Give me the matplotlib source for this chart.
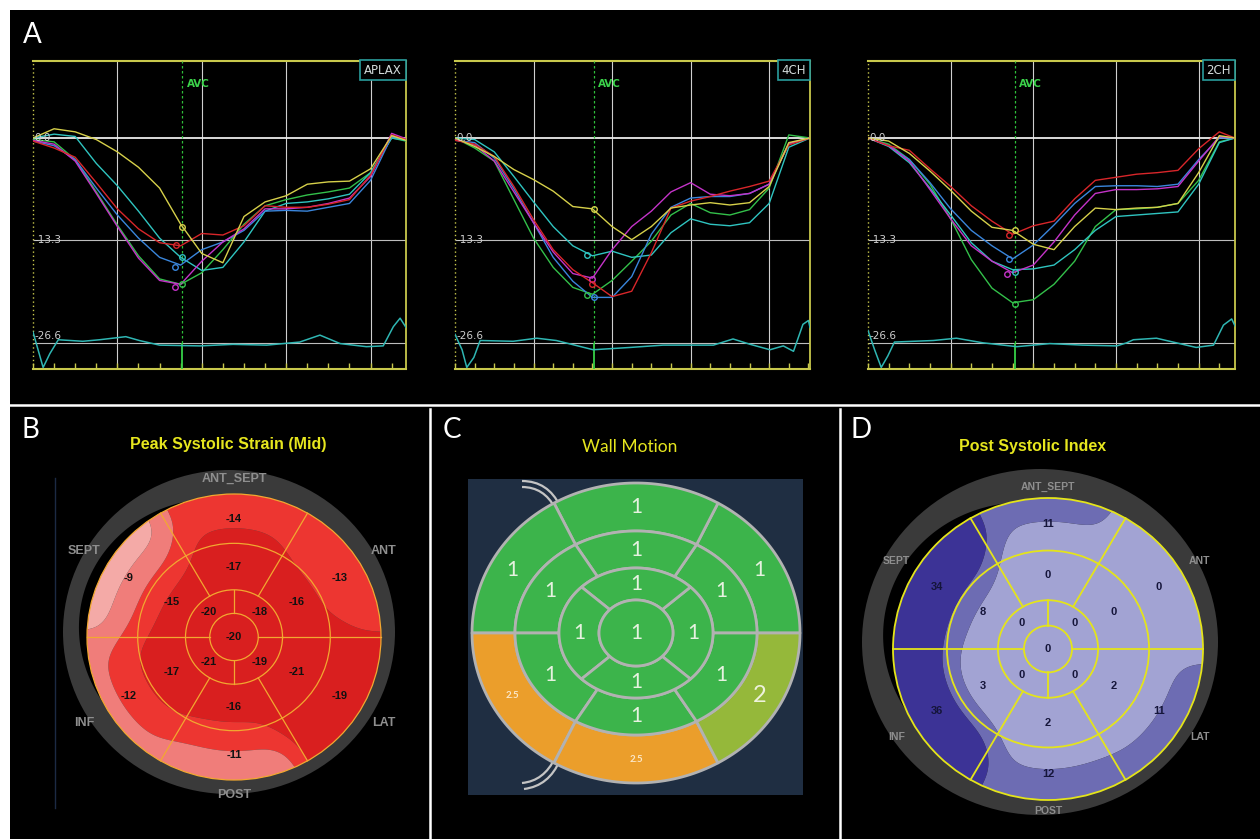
import numpy as np
import matplotlib
matplotlib.use("Agg")
import matplotlib.pyplot as plt
from matplotlib.patches import Rectangle, Ellipse, Polygon, PathPatch
from matplotlib.path import Path
import matplotlib.transforms as mtransforms

# ---------------- DATA ----------------
VIEWS = ["APLAX", "4CH", "2CH"]
T_END = [4.42, 4.52, 4.44]
AVC_T = [1.77, 1.77, 1.78]
TIME_STEPS = [0.0, 0.25, 0.5, 0.75, 1.0, 1.25, 1.5, 1.75, 2.0, 2.25,
              2.5, 2.75, 3.0, 3.25, 3.5, 3.75, 4.0, 4.25]
Y_LABELS = ["0.0", "-13.3", "-26.6"]
Y_LEVELS = [0.0, -13.3, -26.6]

aplax_yellow = [0.0, 1.2, 0.8, -0.2, -1.8, -3.8, -6.5, -11.2, -15.0, -16.2, -10.2, -8.3, -7.5, -6.0, -5.7, -5.6, -4.0, 0.3, -0.3]
aplax_red = [-0.4, -1.3, -2.5, -5.8, -9.2, -11.8, -13.6, -14.0, -12.4, -12.6, -11.4, -8.8, -9.0, -9.0, -8.6, -8.0, -4.8, 0.4, -0.2]
aplax_blue = [-0.4, -1.0, -2.8, -6.5, -10.0, -13.0, -15.5, -16.5, -14.5, -13.5, -12.0, -9.5, -9.4, -9.5, -9.0, -8.5, -5.5, 0.2, -0.2]
aplax_magenta = [-0.3, -0.8, -3.0, -7.2, -11.5, -15.6, -18.5, -19.0, -16.0, -13.5, -11.8, -9.2, -9.2, -9.0, -8.5, -7.8, -5.0, 0.6, -0.1]
aplax_cyan = [0.0, 0.5, 0.2, -3.3, -6.2, -9.5, -13.0, -15.5, -17.2, -16.8, -13.5, -9.5, -8.5, -8.3, -7.9, -7.3, -4.5, 0.0, -0.3]
aplax_green = [-0.2, -0.5, -2.8, -7.0, -11.3, -15.3, -18.3, -19.0, -17.5, -14.5, -11.2, -8.8, -8.0, -7.4, -7.0, -6.5, -4.5, 0.0, -0.4]

ch4_yellow = [0.0, -1.1, -2.4, -4.1, -5.4, -6.9, -8.9, -9.2, -11.5, -13.2, -11.5, -9.1, -8.7, -8.4, -8.7, -8.4, -6.3, -0.6, 0.0]
ch4_red = [-0.3, -0.8, -2.4, -6.3, -10.6, -14.5, -17.1, -18.8, -20.6, -19.9, -14.9, -9.1, -8.2, -7.6, -6.9, -6.3, -5.6, -0.9, 0.0]
ch4_blue = [-0.3, -0.6, -2.6, -6.6, -11.0, -15.5, -18.6, -20.7, -20.7, -18.0, -12.5, -9.0, -7.8, -7.6, -7.6, -7.2, -6.0, -0.8, 0.0]
ch4_magenta = [-0.2, -0.9, -3.0, -7.0, -11.0, -14.8, -17.6, -18.2, -14.5, -11.5, -9.5, -7.0, -5.8, -7.3, -7.5, -7.2, -6.0, -0.7, 0.0]
ch4_cyan = [0.0, -0.2, -1.8, -5.0, -8.3, -11.5, -14.0, -15.3, -14.7, -15.5, -15.2, -12.3, -10.5, -11.2, -11.4, -11.0, -8.5, -1.2, 0.0]
ch4_green = [0.0, -1.3, -3.0, -8.0, -13.0, -16.8, -19.4, -20.3, -18.5, -16.0, -13.4, -10.0, -8.5, -9.7, -10.0, -9.3, -6.5, 0.4, 0.0]

ch2_yellow = [0.0, -0.4, -2.0, -4.3, -6.8, -9.5, -11.6, -12.0, -13.8, -14.5, -11.5, -9.1, -9.3, -9.1, -9.0, -8.5, -4.5, 0.3, 0.0]
ch2_red = [0.0, -1.0, -1.6, -4.0, -6.3, -8.8, -10.8, -12.5, -11.4, -10.8, -7.9, -5.5, -5.1, -4.7, -4.5, -4.2, -1.4, 0.8, 0.0]
ch2_blue = [0.0, -1.0, -2.8, -5.8, -9.2, -12.0, -14.0, -15.7, -13.9, -11.3, -8.5, -6.3, -6.2, -6.2, -6.3, -6.0, -2.8, 0.0, 0.0]
ch2_magenta = [0.0, -1.0, -3.0, -6.7, -10.5, -14.0, -16.0, -17.5, -16.5, -13.5, -10.0, -7.2, -6.7, -6.7, -6.6, -6.3, -3.0, 0.2, 0.0]
ch2_cyan = [0.0, -1.1, -3.2, -6.5, -10.0, -13.6, -16.0, -17.1, -17.0, -16.5, -14.5, -12.0, -10.2, -10.0, -9.8, -9.6, -6.0, -0.6, 0.0]
ch2_green = [0.0, -0.8, -2.8, -6.0, -10.5, -15.8, -19.5, -21.4, -21.0, -19.0, -16.0, -11.5, -9.3, -9.2, -9.0, -8.5, -5.5, -0.5, 0.0]

# AVC markers (time, strain) per trace
aplax_marks = {"yellow": (1.76, -11.5), "red": (1.70, -13.9), "cyan": (1.76, -15.4),
               "blue": (1.68, -16.8), "magenta": (1.68, -19.3), "green": (1.76, -19.0)}
ch4_marks = {"yellow": (1.77, -9.2), "cyan": (1.68, -15.2), "magenta": (1.75, -18.3),
             "red": (1.75, -18.9), "green": (1.68, -20.4), "blue": (1.77, -20.7)}
ch2_marks = {"red": (1.70, -12.6), "yellow": (1.78, -11.9), "blue": (1.70, -15.7),
             "magenta": (1.68, -17.7), "cyan": (1.78, -17.4), "green": (1.78, -21.6)}

# ECG trace (time, value)
aplax_ecg_t = [0, 0.06, 0.12, 0.20, 0.30, 0.59, 0.79, 1.10, 1.26, 1.50, 1.98, 2.37, 2.77, 3.16, 3.40, 3.64, 3.95, 4.15, 4.27, 4.35, 4.42]
aplax_ecg_v = [-25.2, -27.5, -29.8, -28.0, -26.2, -26.4, -26.2, -25.8, -26.3, -26.9, -27.0, -26.8, -26.9, -26.5, -25.6, -26.7, -27.1, -27.0, -24.5, -23.4, -24.6]
ch4_ecg_t = [0, 0.09, 0.15, 0.24, 0.32, 0.74, 1.04, 1.29, 1.76, 2.23, 2.65, 3.29, 3.54, 3.76, 4.01, 4.18, 4.31, 4.43, 4.50, 4.52]
ch4_ecg_v = [-25.5, -27.5, -29.8, -28.5, -26.3, -26.4, -26.0, -26.3, -27.5, -27.2, -26.9, -26.9, -26.1, -26.8, -27.5, -27.0, -27.7, -24.2, -23.7, -24.6]
ch2_ecg_t = [0, 0.08, 0.16, 0.24, 0.32, 0.79, 1.07, 1.39, 1.80, 2.20, 2.60, 3.01, 3.13, 3.21, 3.49, 3.81, 3.97, 4.18, 4.30, 4.40, 4.44]
ch2_ecg_v = [-25.0, -27.5, -29.8, -28.3, -26.5, -26.3, -26.0, -26.6, -27.1, -26.7, -26.9, -27.0, -26.6, -26.2, -26.0, -26.8, -27.2, -26.9, -24.3, -23.5, -24.4]

# Bull's-eye segment values: basal/mid order [UR, top, UL, LL, bottom, LR]; apical [UR, UL, LL, LR]
WALL_NAMES = ["ANT_SEPT", "ANT", "LAT", "POST", "INF", "SEPT"]
strain_basal = [-13, -14, -9, -12, -11, -19]
strain_mid = [-16, -17, -15, -17, -16, -21]
strain_apical = [-18, -20, -21, -19]
strain_cap = -20

psi_basal = [0, 11, 34, 36, 12, 11]
psi_mid = [0, 0, 8, 3, 2, 2]
psi_apical = [0, 0, 0, 0]
psi_cap = 0

# Wall motion: basal/mid [UR, top, UL, LL, bottom, LR]; apical [right, top, left, bottom]
wm_basal = [1, 1, 1, 2.5, 2.5, 2]
wm_mid = [1, 1, 1, 1, 1, 1]
wm_apical = [1, 1, 1, 1]
wm_cap = 1

# ---------------- STYLE ----------------
W, H = 1260, 839
TRACE_COLORS = {"yellow": "#d6d04a", "red": "#d8262a", "blue": "#3a86dc",
                "magenta": "#c433c8", "cyan": "#2fc4c0", "green": "#33c04a"}
FRAME_C = "#c8c84c"
LAB_FONT = "Lato"
TITLE_FONT = "Liberation Sans"

fig = plt.figure(figsize=(W / 100, H / 100), dpi=100, facecolor="white")
bg = fig.add_axes([0, 0, 1, 1])
bg.set_xlim(0, W)
bg.set_ylim(H, 0)
bg.axis("off")
bg.add_patch(Rectangle((10, 10), W - 10, H - 10, facecolor="black", edgecolor="none", zorder=0))
bg.plot([10, W], [405, 405], color="white", lw=1.8, zorder=1)
bg.plot([430, 430], [409, H], color="white", lw=1.8, zorder=1)
bg.plot([840, 840], [409, H], color="white", lw=1.8, zorder=1)

for letter, (lx, ly) in zip("ABCD", [(32, 35), (30, 430), (452, 430), (861, 430)]):
    bg.text(lx, ly, letter, color="white", fontsize=20, family=LAB_FONT,
            ha="center", va="center", zorder=10)

# ---------------- PANEL A ----------------
PLOT_PX = [(33, 406), (455, 810), (868, 1235)]
TOP_PX, BOT_PX = 61, 369
all_traces = [
    {"yellow": aplax_yellow, "red": aplax_red, "blue": aplax_blue,
     "magenta": aplax_magenta, "cyan": aplax_cyan, "green": aplax_green},
    {"yellow": ch4_yellow, "red": ch4_red, "blue": ch4_blue,
     "magenta": ch4_magenta, "cyan": ch4_cyan, "green": ch4_green},
    {"yellow": ch2_yellow, "red": ch2_red, "blue": ch2_blue,
     "magenta": ch2_magenta, "cyan": ch2_cyan, "green": ch2_green},
]
all_marks = [aplax_marks, ch4_marks, ch2_marks]
all_ecg = [(aplax_ecg_t, aplax_ecg_v), (ch4_ecg_t, ch4_ecg_v), (ch2_ecg_t, ch2_ecg_v)]
draw_order = ["green", "cyan", "blue", "magenta", "red", "yellow"]

for i, view in enumerate(VIEWS):
    L, R = PLOT_PX[i]
    ax = fig.add_axes([L / W, (H - BOT_PX) / H, (R - L) / W, (BOT_PX - TOP_PX) / H])
    ax.set_facecolor("none")
    end = T_END[i]
    ax.set_xlim(0, end)
    ax.set_ylim(-30, 10)
    ax.axis("off")
    t = TIME_STEPS + [end]
    ax.vlines([1, 2, 3, 4], -30, 10, colors="#cfcfcf", lw=0.8, zorder=1)
    ax.hlines([-13.3, -26.6], 0, end, colors="#bdbdbd", lw=0.8, zorder=1)
    ax.hlines([0.0], 0, end, colors="#ececec", lw=1.3, zorder=1)
    # frame
    ax.plot([0, end], [10, 10], color=FRAME_C, lw=1.5, clip_on=False, zorder=2)
    ax.plot([0, end], [-30, -30], color=FRAME_C, lw=1.5, clip_on=False, zorder=2)
    ax.plot([end, end], [-30, 10], color=FRAME_C, lw=1.3, clip_on=False, zorder=2)
    ax.plot([0, 0], [-30, 10], color=FRAME_C, lw=1.0, ls=(0, (1, 2)), clip_on=False, zorder=2)
    ticks = np.arange(0, end + 1e-6, 0.25)
    ax.vlines(ticks, -30, -29.2, colors=FRAME_C, lw=1.0, clip_on=False, zorder=2)
    # AVC
    avc = AVC_T[i]
    ax.vlines([avc], -26.6, 10, colors="#2fbf3a", lw=0.9, linestyles=[(0, (2, 2))], zorder=2)
    ax.vlines([avc], -30, -26.6, colors="#36d048", lw=1.3, zorder=2)
    ax.text(avc + 0.05, 7.0, "AVC", color="#3bd24a", fontsize=7.5, fontweight="bold",
            ha="left", va="center", zorder=6)
    # traces
    for name in draw_order:
        ax.plot(t, all_traces[i][name], color=TRACE_COLORS[name], lw=1.0, zorder=3)
    for name, (mt, mv) in all_marks[i].items():
        ax.plot([mt], [mv], "o", mfc="none", mec=TRACE_COLORS[name], ms=4, mew=1.0, zorder=4)
    et, ev = all_ecg[i]
    ax.plot(et, ev, color="#2fb6b3", lw=1.1, zorder=3)
    # value labels
    for lab, lev in zip(Y_LABELS, Y_LEVELS):
        if lev == -26.6:
            ax.text(0.02, lev + 0.2, lab, color="#d0d0d0", fontsize=7.5, ha="left", va="bottom", zorder=6)
        else:
            ax.text(0.02, lev, lab, color="#d0d0d0", fontsize=7.5, ha="left", va="center", zorder=6)
    off = mtransforms.offset_copy(ax.transData, fig=fig, x=-3, y=-3.5, units="points")
    ax.text(end, 10.3, view, color="#d4dcdc", fontsize=8.5, ha="right", va="top", transform=off,
            bbox=dict(boxstyle="square,pad=0.32", fc="black", ec="#2a9d9d", lw=1.2), zorder=7, clip_on=False)


# ---------------- helpers ----------------
def ept(cx, cy, a, b, r, deg):
    th = np.deg2rad(deg)
    return cx + a * r * np.cos(th), cy - b * r * np.sin(th)


def gray_ring(cx, cy, a, b, gcx, gcy, ga, gb, th0, th1, wmax):
    bg.add_patch(Ellipse((gcx, gcy), 2 * ga, 2 * gb, facecolor="#3a3a3a", edgecolor="none", zorder=2))
    th = np.linspace(th0, th1, 80)
    w = wmax * np.sin(np.pi * (th - th0) / (th1 - th0))
    rad = np.deg2rad(th)
    inner = np.column_stack([cx + (a - 2) * np.cos(rad), cy - (b - 2) * np.sin(rad)])
    outer = np.column_stack([cx + (a + w) * np.cos(rad), cy - (b + w) * np.sin(rad)])
    bg.add_patch(Polygon(np.vstack([inner, outer[::-1]]), closed=True, facecolor="black",
                         edgecolor="none", zorder=2.5))


def seg_samples(r_in, r_out, t0, t1, v, pu, pv, vals):
    for fr in (0.15, 0.5, 0.85, 1.05):
        r = r_in + fr * (r_out - r_in)
        for ft in (0.1, 0.3, 0.5, 0.7, 0.9):
            th = np.deg2rad(t0 + ft * (t1 - t0))
            pu.append(r * np.cos(th)); pv.append(r * np.sin(th)); vals.append(v)


def bullseye(cx, cy, a, b, radii, basal, mid, apical, cap, levels, fills,
             line_c, line_w, txt_c, fs, sigma=0.12):
    r1, r2, r3 = radii
    ang6 = 30 + 60 * np.arange(6)
    ang4 = 45 + 90 * np.arange(4)
    rb, rm, ra = (1 + r1) / 2, (r1 + r2) / 2, (r2 + r3) / 2
    pu, pv, vals, txt = [], [], [], []
    for ang, v in zip(ang6, basal):
        seg_samples(r1, 1.0, ang - 30, ang + 30, v, pu, pv, vals)
        txt.append((ept(cx, cy, a, b, rb, ang), v))
    for ang, v in zip(ang6, mid):
        seg_samples(r2, r1, ang - 30, ang + 30, v, pu, pv, vals)
        txt.append((ept(cx, cy, a, b, rm, ang), v))
    for ang, v in zip(ang4, apical):
        seg_samples(r3, r2, ang - 45, ang + 45, v, pu, pv, vals)
        txt.append((ept(cx, cy, a, b, ra, ang), v))
    pu.append(0.0); pv.append(0.0); vals.append(cap)
    for ang in (0, 90, 180, 270):
        pu.append(0.6 * r3 * np.cos(np.deg2rad(ang))); pv.append(0.6 * r3 * np.sin(np.deg2rad(ang))); vals.append(cap)
    txt.append(((cx, cy), cap))
    pu, pv, vals = np.array(pu), np.array(pv), np.array(vals, dtype=float)
    xs = np.linspace(cx - a - 2, cx + a + 2, 260)
    ys = np.linspace(cy - b - 2, cy + b + 2, 260)
    X, Y = np.meshgrid(xs, ys)
    U = (X - cx) / a
    V = -(Y - cy) / b
    d2 = (U[..., None] - pu) ** 2 + (V[..., None] - pv) ** 2
    wgt = np.exp(-d2 / (2 * sigma ** 2)) + 1e-12
    Z = (wgt * vals).sum(-1) / wgt.sum(-1)
    cs = bg.contourf(X, Y, Z, levels=levels, colors=fills, zorder=3, antialiased=True)
    clip = Ellipse((cx, cy), 2 * a, 2 * b, transform=bg.transData)
    cs.set_clip_path(clip)
    for r in [1.0, r1, r2, r3]:
        bg.add_patch(Ellipse((cx, cy), 2 * a * r, 2 * b * r, fill=False, edgecolor=line_c, lw=line_w, zorder=4))
    for ang in [0, 60, 120, 180, 240, 300]:
        p0 = ept(cx, cy, a, b, r2, ang); p1 = ept(cx, cy, a, b, 1.0, ang)
        bg.plot([p0[0], p1[0]], [p0[1], p1[1]], color=line_c, lw=line_w, zorder=4)
    for ang in [0, 90, 180, 270]:
        p0 = ept(cx, cy, a, b, r3, ang); p1 = ept(cx, cy, a, b, r2, ang)
        bg.plot([p0[0], p1[0]], [p0[1], p1[1]], color=line_c, lw=line_w, zorder=4)
    for (x, y), v in txt:
        bg.text(x, y, f"{v:g}", color=txt_c, fontsize=fs, fontweight="bold", family=TITLE_FONT,
                ha="center", va="center", zorder=5)


def wall_labels(cx, cy, r_vert, r_side, fs):
    angles = [90, 30, -30, 270, 210, 150]
    for name, ang in zip(WALL_NAMES, angles):
        r = r_vert if ang in (90, 270) else r_side
        x, y = cx + r * np.cos(np.deg2rad(ang)), cy - r * np.sin(np.deg2rad(ang))
        bg.text(x, y, name, color="#8e8e8e", fontsize=fs, fontweight="bold", family=TITLE_FONT,
                ha="center", va="center", zorder=6)


# ---------------- PANEL B ----------------
bg.text(228, 444, "Peak Systolic Strain (Mid)", color="#e6e61e", fontsize=11.5, fontweight="bold",
        family=TITLE_FONT, ha="center", va="center", zorder=6)
bg.plot([55, 55], [478, 808], color="#1c2a44", lw=1.0, zorder=1)
gray_ring(234, 637, 147, 143, 229, 632, 166, 162, 108, 208, 10)
bullseye(234, 637, 147, 143, (0.655, 0.33, 0.165), strain_basal, strain_mid, strain_apical, strain_cap,
         levels=[-30, -15.2, -12.5, -10.0, 0], fills=["#d91f1f", "#ed3631", "#f07d7a", "#f4aaa7"],
         line_c="#f2a830", line_w=0.9, txt_c="#111111", fs=8)
wall_labels(234, 637, 158, 173, 9)

# ---------------- PANEL C ----------------
bg.text(630, 447, "Wall Motion", color="#e6e61e", fontsize=12.5, family=LAB_FONT,
        ha="center", va="center", zorder=6)
bg.add_patch(Rectangle((468, 479), 335, 316, facecolor="#1f2e42", edgecolor="none", zorder=1.5))
WM_FILL = {1: "#3cb44b", 2: "#95b83a", 2.5: "#eb9e2b"}
WM_TXT = {1: ("#e6f2e0", 15, "normal"), 2: ("#eef2dc", 17, "normal"), 2.5: ("#fbe7c8", 7, "bold")}
ccx, ccy = 636, 633
RINGS = [(164, 150), (121, 102), (77, 65), (37, 33)]


def ring_pts(k, th):
    a, b = RINGS[k]
    rad = np.deg2rad(th)
    return np.column_stack([ccx + a * np.cos(rad), ccy - b * np.sin(rad)])


def seg(k_out, k_in, t0, t1, v):
    th = np.linspace(t0, t1, 40)
    poly = np.vstack([ring_pts(k_out, th), ring_pts(k_in, th[::-1])])
    bg.add_patch(Polygon(poly, closed=True, facecolor=WM_FILL[v], edgecolor="#b2b2b2", lw=2.0,
                         joinstyle="round", zorder=3))
    tm = np.deg2rad((t0 + t1) / 2)
    a = (RINGS[k_out][0] + RINGS[k_in][0]) / 2
    b = (RINGS[k_out][1] + RINGS[k_in][1]) / 2
    c, fs, fw = WM_TXT[v]
    bg.text(ccx + a * np.cos(tm), ccy - b * np.sin(tm), f"{v:g}", color=c, fontsize=fs, fontweight=fw,
            family=LAB_FONT, ha="center", va="center", zorder=5)


for j, v in enumerate(wm_basal):
    seg(0, 1, 60 * j, 60 * (j + 1), v)
for j, v in enumerate(wm_mid):
    seg(1, 2, 60 * j, 60 * (j + 1), v)
for j, v in enumerate(wm_apical):
    seg(2, 3, -45 + 90 * j, 45 + 90 * j, v)
cap_poly = ring_pts(3, np.linspace(0, 360, 80))
bg.add_patch(Polygon(cap_poly, closed=True, facecolor=WM_FILL[wm_cap], edgecolor="#b2b2b2", lw=2.0, zorder=3))
c, fs, fw = WM_TXT[wm_cap]
bg.text(ccx, ccy, f"{wm_cap:g}", color=c, fontsize=fs, fontweight=fw, family=LAB_FONT,
        ha="center", va="center", zorder=5)
# break marks
for (p0, p1, p2) in [((522, 481), (548, 481), (560, 506)), ((522, 487), (544, 487), (555, 508)),
                     ((560, 760), (549, 786), (524, 789)), ((555, 758), (544, 781), (522, 783))]:
    path = Path([p0, p1, p2], [Path.MOVETO, Path.CURVE3, Path.CURVE3])
    bg.add_patch(PathPatch(path, facecolor="none", edgecolor="#c4c4c4", lw=1.6, zorder=2.5))

# ---------------- PANEL D ----------------
bg.text(1033, 446, "Post Systolic Index", color="#e6e61e", fontsize=11.5, fontweight="bold",
        family=TITLE_FONT, ha="center", va="center", zorder=6)
gray_ring(1048, 649, 155, 151, 1040, 642, 178, 173, 105, 205, 13)
bullseye(1048, 649, 155, 151, (0.652, 0.323, 0.155), psi_basal, psi_mid, psi_apical, psi_cap,
         levels=[-1, 9, 17, 60], fills=["#a2a3d3", "#6d6cb3", "#3c3396"],
         line_c="#e4e41a", line_w=1.3, txt_c="#15153a", fs=8)
wall_labels(1048, 649, 162, 175, 7.5)

fig.savefig("out.png", dpi=100, facecolor=fig.get_facecolor())
